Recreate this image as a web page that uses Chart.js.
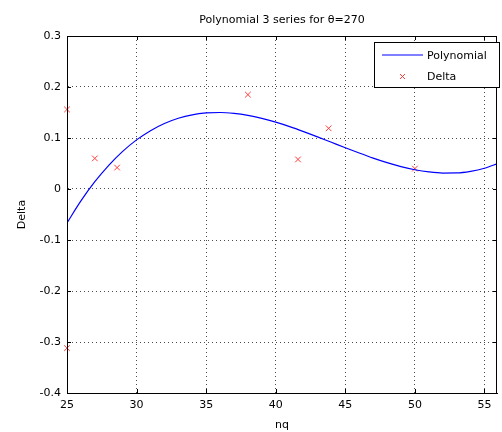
<!DOCTYPE html>
<html>
<head>
<meta charset="utf-8">
<title>Polynomial 3 series</title>
<script src="https://cdn.jsdelivr.net/npm/chart.js@4/dist/chart.umd.min.js"></script>
<style>
  html, body { margin: 0; padding: 0; background: #fff; }
  #wrap { width: 502px; height: 432px; }
</style>
</head>
<body>
<div id="wrap"><canvas id="polyChart" width="502" height="432"></canvas></div>
<script>
// Data
const curveNq = [25, 26, 27, 28, 29, 30, 31, 32, 33, 34, 35, 36, 37, 38, 39, 40,
    41, 42, 43, 44, 45, 46, 47, 48, 49, 50, 51, 52, 53, 54, 55, 56]
const curveDelta = [-0.0665, -0.0233, 0.0143, 0.0465, 0.0738, 0.0963, 0.1144, 0.1284, 0.1387, 0.1455,
    0.1491, 0.1500, 0.1482, 0.1443, 0.1384, 0.1310, 0.1223, 0.1126, 0.1023, 0.0916,
    0.0809, 0.0705, 0.0606, 0.0517, 0.0440, 0.0378, 0.0335, 0.0313, 0.0315, 0.0346,
    0.0407, 0.0503]

const pointNq = [25, 25, 27, 28.6, 38, 41.6, 43.8, 50]
const pointDelta = [0.156, -0.312, 0.060, 0.042, 0.185, 0.058, 0.119, 0.040]

const xTicks = [25, 30, 35, 40, 45, 50, 55]
const yTicks = [-0.4, -0.3, -0.2, -0.1, 0, 0.1, 0.2, 0.3]

const FONT = 'DejaVu Sans'
const BLUE = 'rgb(0,0,255)'
const RED = 'rgb(255,60,60)'

// Title, box, inner ticks and legend in MATLAB style
const matlabAxes = {
    id: 'matlabAxes',
    afterDraw(chart) {
        const { ctx, chartArea: a, scales } = chart
        ctx.save()

        // box
        ctx.strokeStyle = '#000'
        ctx.lineWidth = 1
        ctx.strokeRect(Math.round(a.left) + 0.5, Math.round(a.top) + 0.5,
            Math.round(a.right - a.left) - 1, Math.round(a.bottom - a.top))

        // inner ticks
        ctx.beginPath()
        xTicks.forEach(v => {
            const px = Math.round(scales.x.getPixelForValue(v)) + 0.5
            ctx.moveTo(px, a.bottom); ctx.lineTo(px, a.bottom - 4)
            ctx.moveTo(px, a.top); ctx.lineTo(px, a.top + 4)
        })
        yTicks.forEach(v => {
            const py = Math.round(scales.y.getPixelForValue(v)) + 0.5
            ctx.moveTo(a.left, py); ctx.lineTo(a.left + 4, py)
            ctx.moveTo(a.right, py); ctx.lineTo(a.right - 4, py)
        })
        ctx.stroke()

        // title
        ctx.fillStyle = '#000'
        ctx.font = `11px "${FONT}"`
        ctx.textAlign = 'center'
        ctx.textBaseline = 'middle'
        ctx.fillText('Polynomial 3 series for \u03b8=270', (a.left + a.right) / 2, 20)

        // legend
        const lx = 374.5, ly = 42.5, lw = 125, lh = 45
        ctx.fillStyle = '#fff'
        ctx.fillRect(lx, ly, lw, lh)
        ctx.strokeStyle = '#000'
        ctx.strokeRect(lx, ly, lw, lh)

        ctx.strokeStyle = BLUE
        ctx.lineWidth = 1.2
        ctx.beginPath()
        ctx.moveTo(382, 55); ctx.lineTo(423, 55)
        ctx.stroke()

        ctx.strokeStyle = RED
        ctx.lineWidth = 1
        ctx.beginPath()
        ctx.moveTo(400, 74); ctx.lineTo(405, 79)
        ctx.moveTo(405, 74); ctx.lineTo(400, 79)
        ctx.stroke()

        ctx.fillStyle = '#000'
        ctx.textAlign = 'left'
        ctx.fillText('Polynomial', 427, 56)
        ctx.fillText('Delta', 427, 77)
        ctx.restore()
    }
}

const ctx = document.getElementById('polyChart').getContext('2d')

new Chart(ctx, {
    type: 'scatter',
    data: {
        datasets: [{
            label: 'Polynomial',
            data: curveNq.map((x, i) => ({ x, y: curveDelta[i] })),
            showLine: true,
            borderColor: BLUE,
            borderWidth: 1.2,
            pointRadius: 0,
            cubicInterpolationMode: 'monotone',
            fill: false
        }, {
            label: 'Delta',
            data: pointNq.map((x, i) => ({ x, y: pointDelta[i] })),
            showLine: false,
            clip: false,
            pointStyle: 'crossRot',
            pointRadius: 4,
            borderColor: RED,
            backgroundColor: RED,
            pointBorderWidth: 1
        }]
    },
    options: {
        responsive: false,
        animation: false,
        devicePixelRatio: 1,
        layout: { padding: { top: 36, right: 1, left: 0, bottom: 0 } },
        plugins: {
            legend: { display: false },
            title: { display: false },
            tooltip: { enabled: false }
        },
        scales: {
            x: {
                type: 'linear',
                min: 25,
                max: 55.9,
                afterBuildTicks: s => { s.ticks = xTicks.map(v => ({ value: v })) },
                afterFit: s => { s.height = 39 },
                grid: { color: 'rgba(0,0,0,0.7)', lineWidth: 1, drawTicks: false },
                border: { color: '#000', dash: [1, 3] },
                ticks: {
                    padding: 6,
                    color: '#000',
                    font: { family: FONT, size: 11 },
                    maxRotation: 0
                },
                title: {
                    display: true,
                    text: 'nq',
                    color: '#000',
                    font: { family: FONT, size: 11 },
                    padding: { top: 1, bottom: 0 }
                }
            },
            y: {
                type: 'linear',
                min: -0.4,
                max: 0.3,
                afterBuildTicks: s => { s.ticks = yTicks.map(v => ({ value: v })) },
                afterFit: s => { s.width = 67 },
                grid: { color: 'rgba(0,0,0,0.7)', lineWidth: 1, drawTicks: false },
                border: { color: '#000', dash: [1, 3] },
                ticks: {
                    padding: 6,
                    color: '#000',
                    font: { family: FONT, size: 11 },
                    callback: v => String(Math.round(v * 10) / 10)
                },
                title: {
                    display: true,
                    text: 'Delta',
                    color: '#000',
                    font: { family: FONT, size: 11 },
                    padding: { top: 16, bottom: 0 }
                }
            }
        }
    },
    plugins: [matlabAxes]
})
</script>
</body>
</html>
